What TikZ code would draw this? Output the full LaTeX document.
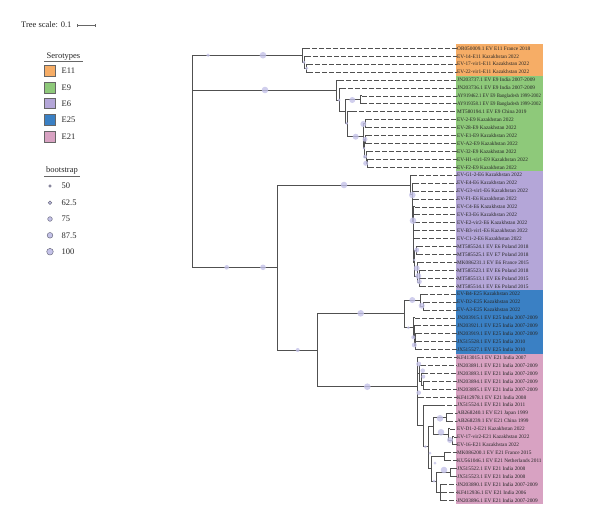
\documentclass[tikz,border=0pt]{standalone}
\usepackage{fontspec}
\setmainfont{Liberation Serif}
\definecolor{treeclr}{RGB}{80,80,80}
\definecolor{bscol}{RGB}{196,194,232}
\definecolor{bsline}{RGB}{110,110,130}
\definecolor{cE11}{RGB}{246,173,102}
\definecolor{cE9}{RGB}{142,201,122}
\definecolor{cE6}{RGB}{180,166,216}
\definecolor{cE25}{RGB}{58,128,196}
\definecolor{cE21}{RGB}{216,162,194}
\newcommand\lfy[1]{48.3+(#1-1)*7.93}
\newcommand\narrowlab[1]{\scalebox{0.9}[1]{#1}}
\begin{document}
\begin{tikzpicture}[x=1pt,y=-1pt,
  br/.style={draw=treeclr,line width=0.9pt},
  dl/.style={draw=treeclr,line width=0.75pt,dash pattern=on 4.5pt off 2.5pt},
  bs/.style={fill=bscol,fill opacity=0.8,draw=none},
  lab/.style={anchor=west,inner sep=0pt,font=\fontsize{5.3}{6}\selectfont,text=black!85},
  leg/.style={anchor=west,inner sep=0pt,font=\fontsize{8.5}{9}\selectfont,text=black!85},
  sq/.style={draw=black!60,line width=0.6pt,minimum size=10.5pt,inner sep=0pt}]
\useasboundingbox (0,0) rectangle (600,525);
% colour bands
\fill[cE11] (455.7,44.3) rectangle (543,76.05);
\fill[cE9]  (455.7,76.05) rectangle (543,171.25);
\fill[cE6]  (455.7,171.25) rectangle (543,290.15);
\fill[cE25] (455.7,290.15) rectangle (543,353.65);
\fill[cE21] (455.7,353.65) rectangle (543,504.3);
% leaf labels
\foreach \i/\t in {1/{OR050009.1 EV E11 France 2018},2/{EV-14-E11 Kazakhstan 2022},3/{EV-17-vir1-E11 Kazakhstan 2022},4/{EV-22-vir1-E11 Kazakhstan 2022},
5/{JN203737.1 EV E9 India 2007-2009},6/{JN203736.1 EV E9 India 2007-2009},7/{\narrowlab{AY919462.1 EV E9 Bangladesh 1999-2002}},8/{\narrowlab{AY919358.1 EV E9 Bangladesh 1999-2002}},9/{MT580194.1 EV E9 China 2019},10/{EV-2-E9 Kazakhstan 2022},11/{EV-28-E9 Kazakhstan 2022},12/{EV-E1-E9 Kazakhstan 2022},13/{EV-A2-E9 Kazakhstan 2022},14/{EV-32-E9 Kazakhstan 2022},15/{EV-H1-vir1-E9 Kazakhstan 2022},16/{EV-F2-E9 Kazakhstan 2022},
17/{EV-G1-2-E6 Kazakhstan 2022},18/{EV-E4-E6 Kazakhstan 2022},19/{EV-G3-vir1-E6 Kazakhstan 2022},20/{EV-F1-E6 Kazakhstan 2022},21/{EV-C4-E6 Kazakhstan 2022},22/{EV-E3-E6 Kazakhstan 2022},23/{EV-E2-vir2-E6 Kazakhstan 2022},24/{EV-B3-vir1-E6 Kazakhstan 2022},25/{EV-C1-2-E6 Kazakhstan 2022},26/{MT585524.1 EV E6 Poland 2018},27/{MT585525.1 EV E7 Poland 2018},28/{MK086231.1 EV E6 France 2015},29/{MT585523.1 EV E6 Poland 2018},30/{MT585513.1 EV E6 Poland 2015},31/{MT585514.1 EV E6 Poland 2015},
32/{EV-B4-E25 Kazakhstan 2022},33/{EV-D2-E25 Kazakhstan 2022},34/{EV-A3-E25 Kazakhstan 2022},35/{JN203915.1 EV E25 India 2007-2009},36/{JN203921.1 EV E25 India 2007-2009},37/{JN203919.1 EV E25 India 2007-2009},38/{JX515528.1 EV E25 India 2010},39/{JX515527.1 EV E25 India 2010},
40/{KF413015.1 EV E21 India 2007},41/{JN203891.1 EV E21 India 2007-2009},42/{JN203893.1 EV E21 India 2007-2009},43/{JN203894.1 EV E21 India 2007-2009},44/{JN203895.1 EV E21 India 2007-2009},45/{KF412978.1 EV E21 India 2008},46/{JX515524.1 EV E21 India 2011},47/{AB268240.1 EV E21 Japan 1999},48/{AB268239.1 EV E21 China 1999},49/{EV-D1-2-E21 Kazakhstan 2022},50/{EV-17-vir2-E21 Kazakhstan 2022},51/{EV-16-E21 Kazakhstan 2022},52/{MK086200.1 EV E21 France 2015},53/{KU561046.1 EV E21 Netherlands 2011},54/{JX515522.1 EV E21 India 2008},55/{JX515523.1 EV E21 India 2008},56/{JN203890.1 EV E21 India 2007-2009},57/{KF412936.1 EV E21 India 2006},58/{JN203896.1 EV E21 India 2007-2009}}
  \node[lab] (t\i) at (457,{\lfy{\i}}) {\t};
% internal nodes
\coordinate (R) at (192.3,161);
\coordinate (A) at (302.3,55.2);
\coordinate (A1) at (304,62.2);
\coordinate (A2) at (306.5,68.2);
\coordinate (B) at (336.5,90);
\coordinate (B1) at (339.3,100);
\coordinate (B2) at (345,111.7);
\coordinate (B3) at (360,99.9);
\coordinate (B4) at (347.7,123.3);
\coordinate (B5) at (363.3,136.7);
\coordinate (B6) at (365,123.6);
\coordinate (B7) at (364.3,148.4);
\coordinate (B8) at (365.5,139.5);
\coordinate (B9) at (366,157.4);
\coordinate (B10) at (367,163.3);
\coordinate (C) at (277.7,267.3);
\coordinate (D) at (410.7,185);
\coordinate (D1) at (412,194.8);
\coordinate (D2) at (413,221);
\coordinate (D3) at (414,262);
\coordinate (D4) at (416.7,250.5);
\coordinate (D5) at (417,276);
\coordinate (D6) at (419.3,282.2);
\coordinate (E) at (317.7,350);
\coordinate (F) at (404,313.3);
\coordinate (F1) at (420.7,300);
\coordinate (F1a) at (423,306);
\coordinate (F2) at (413.3,327.7);
\coordinate (F2a) at (414,337);
\coordinate (F2b) at (415,345);
\coordinate (G) at (417.3,386.7);
\coordinate (G1) at (419,373);
\coordinate (G1a) at (421,381);
\coordinate (G1b) at (423,385);
\coordinate (G2) at (423.3,425.7);
\coordinate (G3) at (428,446);
\coordinate (H1) at (433.3,426);
\coordinate (Hab) at (446,417.1);
\coordinate (Hev) at (448,434.9);
\coordinate (He2) at (452,440.9);
\coordinate (H2) at (431,468);
\coordinate (Hmk) at (444,456.7);
\coordinate (Hjx) at (436,481);
\coordinate (Hjj) at (450,472.5);
\coordinate (Hjn) at (440,492.4);
% internal branches
\foreach \p/\c in {R/A,A/A1,A1/A2,R/B,B/B1,B1/B2,B2/B3,B2/B4,B4/B5,B5/B6,B5/B7,B7/B8,B7/B9,B9/B10,
  R/C,C/D,D/D1,D1/D2,D2/D3,D3/D4,D3/D5,D5/D6,C/E,E/F,F/F1,F1/F1a,F/F2,F2/F2a,F2a/F2b,
  E/G,G/G1,G1/G1a,G1a/G1b,G/G2,G2/G3,G3/H1,H1/Hab,H1/Hev,Hev/He2,G3/H2,H2/Hmk,H2/Hjx,Hjx/Hjj,Hjx/Hjn}
  \draw[br] (\p) |- (\c);
% leaves: index/parent/tip x
\foreach \i/\p/\x in {1/A/305,2/A1/306,3/A2/308,4/A2/308,5/B/339,6/B1/341,7/B3/362,8/B3/362,9/B4/352,
  10/B6/367,11/B6/367,12/B8/367,13/B8/367,14/B9/368,15/B10/369,16/B10/369,
  17/D/412,18/D1/414,19/D1/414,20/D1/414,21/D2/415,22/D2/415,23/D2/415,24/D2/415,25/D2/415,
  26/D4/418,27/D4/418,28/D5/419,29/D6/421,30/D6/421,31/D6/421,
  32/F1/423,33/F1a/425,34/F1a/425,35/F2/415,36/F2a/416,37/F2b/417,38/F2b/417,39/F2b/417,
  40/G/419,41/G1/421,42/G1a/423,43/G1b/425,44/G1b/425,45/G/419,46/G2/440,
  47/Hab/448,48/Hab/448,49/Hev/450,50/He2/454,51/He2/454,52/Hmk/446,53/Hmk/446,
  54/Hjj/452,55/Hjj/452,56/Hjn/442,57/Hjn/442,58/Hjn/442}{
  \coordinate (L\i) at (\x,{\lfy{\i}});
  \draw[br] (\p) |- (L\i);
  \draw[dl] (L\i) -- (t\i.west);
}
% bootstrap symbols
\foreach \x/\y/\r in {208/55.2/1.8,263/55.2/3.3,304/62.3/1.6,306.7/68.3/1.6,
  265/90/3.3,339/100/1.5,352.3/100/3,346.7/123.3/1.5,355.7/136.7/3,363.3/124/3,365/139.3/2.5,364/148.3/1.3,365/156.7/2,365.7/163.3/2.5,
  226.7/267.3/2.3,263/267.3/2.8,344/185/3.3,297.7/350/2,
  412.3/195/3.3,413/220.7/3.3,416.7/250/2.5,414.3/260/1.3,416.7/268.3/3,418.3/276/3,419.3/281.7/2.5,
  360.7/313.3/3.3,367.3/386.7/3.3,412.3/300/3,421.7/305.7/3,408.3/327.7/1.5,413.3/337.3/2,414.3/345/2.5,
  418.7/364/2.5,422.7/370.7/2.3,423.3/376.7/2,418.7/392.7/2.3,425.3/446.7/1.5,
  440/418.3/3.3,441/432.3/3.3,450/440/3,430/453/1.5,444/470/3.3,435/463/1.5,434/481/1.5}
  \fill[bs] (\x,\y) circle (\r);
% legend: tree scale
\node[leg] (ts) at (21,25) {Tree scale: 0.1};
\coordinate (s0) at (77,25); \coordinate (s1) at (95,25);
\draw[draw=black!60,line width=0.6pt] (s0) -- (s1);
\draw[draw=black!60,line width=0.6pt] ([yshift=-1.5pt]s0) -- ([yshift=1.5pt]s0) ([yshift=-1.5pt]s1) -- ([yshift=1.5pt]s1);
% legend: serotypes
\node[leg,anchor=center] (sert) at (63.5,56.5) {Serotypes};
\draw[black!60,line width=0.8pt] (44,61.5) -- (83,61.5);
\foreach \n/\c/\y in {E11/cE11/71,E9/cE9/87.7,E6/cE6/103.5,E25/cE25/120,E21/cE21/136.7}{
  \node[sq,fill=\c] (s\n) at (50,\y) {};
  \node[leg] (l\n) at (61.5,\y) {\n};
}
% legend: bootstrap
\node[leg,anchor=center] (boot) at (62,170) {bootstrap};
\draw[black!60,line width=0.8pt] (44,176.5) -- (80,176.5);
\foreach \v/\y/\r in {50/186/1.3,62.5/202.7/1.8,75/219/2.3,87.5/235.3/2.8,100/251.7/3.3}{
  \draw[bsline,fill=bscol,line width=0.5pt] (50,\y) circle (\r);
  \node[leg] at (61.5,\y) {\v};
}
\end{tikzpicture}
\end{document}
